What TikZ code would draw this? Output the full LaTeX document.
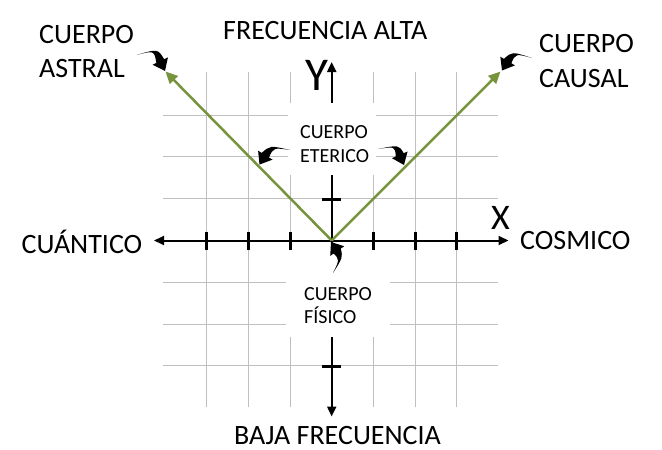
\documentclass[tikz,border=0pt]{standalone}
\usepackage{fontspec}
\setmainfont{Carlito}
\usetikzlibrary{arrows.meta,calc}
\definecolor{gridgray}{HTML}{C0C0C0}
\definecolor{raygreen}{HTML}{77933C}
\newcommand{\bentarrow}[3]{%
  \coordinate (cT) at (#1);
  \coordinate (cC) at (#2);
  \coordinate (cP) at (#3);
  \coordinate (cB) at ($(cP)!11pt!(cC)$);
  \coordinate (cH1) at ($(cB)!8.5pt!90:(cP)$);
  \coordinate (cH2) at ($(cB)!8.5pt!-90:(cP)$);
  \coordinate (cW1) at ($(cB)!4.3pt!90:(cP)$);
  \coordinate (cW2) at ($(cB)!4.3pt!-90:(cP)$);
  \coordinate (cC1) at ($(cC)!3pt!90:(cP)$);
  \coordinate (cC2) at ($(cC)!1pt!-90:(cP)$);
  \fill[black] (cT) .. controls (cC1) .. (cW1) -- (cH1) -- (cP) -- (cH2) -- (cW2) .. controls (cC2) .. (cT) -- cycle;
}
\begin{document}
\begin{tikzpicture}[x=1pt,y=-1pt,
  gridline/.style={draw=gridgray,line width=1pt},
  axisline/.style={draw=black,line width=2pt,-{Triangle[length=10pt,width=9pt]}},
  ray/.style={draw=raygreen,line width=2.5pt,-{Triangle[length=12pt,width=11pt]}},
  tickmark/.style={draw=black,line width=3pt},
  bigtext/.style={font=\fontsize{28}{33}\selectfont,inner sep=0pt,anchor=base west},
  smalltext/.style={font=\fontsize{20}{24}\selectfont,inner sep=0pt,anchor=base west},
  letter/.style={inner sep=0pt,anchor=base west}]
\useasboundingbox (0,0) rectangle (662,450);
\fill[white] (0,0) rectangle (662,450);
% grid
\foreach \k in {-3,-2,-1,1,2,3} {
  \draw[gridline] ({331.7+41.7*\k},72) -- ({331.7+41.7*\k},407);
  \draw[gridline] (163,{240.5+41.8*\k}) -- (498,{240.5+41.8*\k});
}
% key points
\coordinate (O) at (331.7,240.5);
\coordinate (Lend) at (154,240.5);
\coordinate (Rend) at (508.5,240.5);
\coordinate (Tend) at (331.7,62);
\coordinate (Bend) at (331.7,416.5);
\coordinate (UL) at (165.5,71.5);
\coordinate (UR) at (500.5,71.5);
% y axis
\draw[axisline] (O) -- (Tend);
\draw[axisline] (O) -- (Bend);
% white boxes behind labels
\fill[white] (288,103) rectangle (376,175);
\fill[white] (286,248) rectangle (390,337);
% x axis
\draw[axisline] (O) -- (Lend);
\draw[axisline] (O) -- (Rend);
% ticks
\foreach \k in {-3,-2,-1,1,2,3} {
  \draw[tickmark] ({331.7+41.7*\k},231.5) -- ({331.7+41.7*\k},249.5);
}
\draw[tickmark] (322,199.3) -- (341,199.3);
\draw[tickmark] (322,366) -- (341,366);
% green rays
\draw[ray] (O) -- (UL);
\draw[ray] (O) -- (UR);
% curved arrows
\bentarrow{136.5,55}{155,50}{165,71}
\bentarrow{532,58}{513,52}{502,70.5}
\bentarrow{290,150}{271,146}{259.5,164.5}
\bentarrow{378,149}{396,146}{404,165}
\bentarrow{333,273}{342,258}{331,242}
% labels
\node[bigtext] (astral1) at (39,43) {CUERPO};
\node[bigtext] (astral2) at (39,77.3) {ASTRAL};
\node[bigtext] (causal1) at (539,52) {CUERPO};
\node[bigtext] (causal2) at (539,87) {CAUSAL};
\node[bigtext] (alta) at (223,39) {FRECUENCIA ALTA};
\node[bigtext] (cuant) at (21.5,253.3) {CUÁNTICO};
\node[bigtext] (cosm) at (520,249) {COSMICO};
\node[bigtext] (baja) at (234,444.3) {BAJA FRECUENCIA};
\node[smalltext] (eter1) at (300,138.3) {CUERPO};
\node[smalltext] (eter2) at (300,162.7) {ETERICO};
\node[smalltext] (fis1) at (304,300) {CUERPO};
\node[smalltext] (fis2) at (304,323.3) {FÍSICO};
\node[letter,font=\fontsize{47}{50}\selectfont] (ylab) at (305,90.7) {Y};
\node[letter,font=\fontsize{36}{40}\selectfont] (xlab) at (491,229.3) {X};
\end{tikzpicture}
\end{document}
